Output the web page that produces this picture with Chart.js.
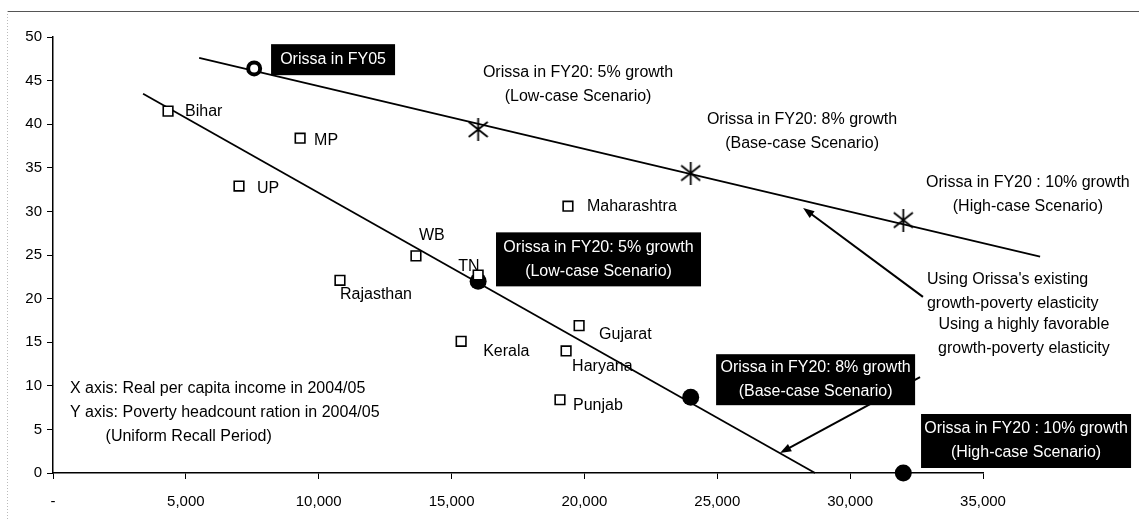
<!DOCTYPE html>
<html lang="en">
  <head>
    <meta charset="UTF-8" />
    <title>Orissa growth-poverty</title>
    <script src="https://cdn.jsdelivr.net/npm/chart.js@4"></script>
    <style>
      html, body { margin: 0; padding: 0; background: #fff; }
      .chart-box { width: 1139px; height: 521px; position: relative; }
    </style>
  </head>
  <body>
    <div class="chart-box">
      <canvas id="myChart"></canvas>
    </div>
    <script>
      // states: per capita income (x) vs poverty headcount (y)
      const stateNames = ["Bihar", "MP", "UP", "Maharashtra", "WB", "Rajasthan", "TN", "Kerala", "Gujarat", "Haryana", "Punjab"];
      const stateIncome = [4330, 9300, 7000, 19380, 13660, 10800, 16000, 15360, 19800, 19310, 19080];
      const statePoverty = [41.5, 38.4, 32.9, 30.6, 24.9, 22.1, 22.7, 15.1, 16.9, 14.0, 8.4];

      const orissaFY05 = { x: 7570, y: 46.4 };

      // FY20 projections at 5%, 8%, 10% growth
      const fy20Income = [16000, 24000, 32000];
      const fy20PovertyExisting = [39.4, 34.4, 29.0];
      const fy20PovertyFavorable = [22.0, 8.7, 0];

      // elasticity lines (end points)
      const lineExisting = [{ x: 5500, y: 47.6 }, { x: 37150, y: 24.8 }];
      const lineFavorable = [{ x: 3390, y: 43.5 }, { x: 28680, y: 0 }];

      const xTicks = [0, 5000, 10000, 15000, 20000, 25000, 30000, 35000];
      const yTicks = [0, 5, 10, 15, 20, 25, 30, 35, 40, 45, 50];

      const FONT = '"Liberation Sans", Arial, sans-serif';

      // label offsets for state names (px from the square)
      const stateLabelOffsets = {
        Bihar: [17, 0, "left"], MP: [14, 2, "left"], UP: [18, 2, "left"],
        Maharashtra: [19, 0, "left"], WB: [3, -20, "left"], Rajasthan: [0, 14, "left"],
        TN: [-20, -8, "left"], Kerala: [22, 10, "left"], Gujarat: [20, 9, "left"],
        Haryana: [6, 16, "left"], Punjab: [13, 6, "left"]
      };

      // six-armed asterisk marker
      const star = document.createElement("canvas");
      star.width = 21; star.height = 23;
      (function () {
        const c = star.getContext("2d");
        c.strokeStyle = "#000"; c.lineWidth = 1.8;
        c.beginPath();
        c.moveTo(10.5, 0); c.lineTo(10.5, 23);
        c.moveTo(1, 4); c.lineTo(20, 19);
        c.moveTo(20, 4); c.lineTo(1, 19);
        c.stroke();
      })();

      const annotations = [
        { box: true, x: 10540, y: 47.4, lines: ["Orissa in FY05"], w: 124, h: 31 },
        { box: true, x: 20530, y: 24.5, lines: ["Orissa in FY20: 5% growth", "(Low-case Scenario)"], w: 205, h: 54 },
        { box: true, x: 28700, y: 10.7, lines: ["Orissa in FY20: 8% growth", "(Base-case Scenario)"], w: 199, h: 51 },
        { box: true, x: 36620, y: 3.67, lines: ["Orissa in FY20 : 10% growth", "(High-case Scenario)"], w: 210, h: 54 },
        { x: 19760, y: 44.55, lines: ["Orissa in FY20: 5% growth", "(Low-case Scenario)"] },
        { x: 28190, y: 39.2, lines: ["Orissa in FY20: 8% growth", "(Base-case Scenario)"] },
        { x: 36690, y: 31.9, lines: ["Orissa in FY20 : 10% growth", "(High-case Scenario)"] },
        { x: 32890, y: 20.8, lines: ["Using Orissa's existing", "growth-poverty elasticity"], align: "left" },
        { x: 36540, y: 15.65, lines: ["Using a highly favorable", "growth-poverty elasticity"] },
        { x: 640, y: 6.9, lines: ["X axis: Real per capita income in 2004/05", "Y axis: Poverty headcount ration in 2004/05", "        (Uniform Recall Period)"], align: "left" }
      ];

      const arrows = [
        { from: { x: 32740, y: 20.2 }, to: { x: 28230, y: 30.4 } },
        { from: { x: 32630, y: 11.0 }, to: { x: 27360, y: 2.3 } }
      ];

      const annotationPlugin = {
        id: "annotationPlugin",
        afterDatasetsDraw(chart) {
          const { ctx, scales } = chart;
          const px = (v) => scales.x.getPixelForValue(v);
          const py = (v) => scales.y.getPixelForValue(v);
          ctx.save();
          // arrows
          ctx.strokeStyle = "#000"; ctx.fillStyle = "#000"; ctx.lineWidth = 2;
          arrows.forEach((a) => {
            const x1 = px(a.from.x), y1 = py(a.from.y), x2 = px(a.to.x), y2 = py(a.to.y);
            const ang = Math.atan2(y2 - y1, x2 - x1);
            ctx.beginPath(); ctx.moveTo(x1, y1);
            ctx.lineTo(x2 - 8 * Math.cos(ang), y2 - 8 * Math.sin(ang)); ctx.stroke();
            ctx.beginPath(); ctx.moveTo(x2, y2);
            ctx.lineTo(x2 - 12 * Math.cos(ang - 0.35), y2 - 12 * Math.sin(ang - 0.35));
            ctx.lineTo(x2 - 12 * Math.cos(ang + 0.35), y2 - 12 * Math.sin(ang + 0.35));
            ctx.closePath(); ctx.fill();
          });
          // state labels
          ctx.font = "16px " + FONT; ctx.textBaseline = "middle"; ctx.fillStyle = "#000";
          stateNames.forEach((n, i) => {
            const o = stateLabelOffsets[n];
            ctx.textAlign = o[2];
            ctx.fillText(n, px(stateIncome[i]) + o[0], py(statePoverty[i]) + o[1]);
          });
          // text annotations
          annotations.forEach((a) => {
            const cx = px(a.x), cy = py(a.y);
            const lh = 24;
            if (a.box) {
              ctx.fillStyle = "#000";
              ctx.fillRect(cx - a.w / 2, cy - a.h / 2, a.w, a.h);
              ctx.fillStyle = "#fff";
            } else {
              ctx.fillStyle = "#000";
            }
            ctx.textAlign = a.align || "center";
            const top = cy - ((a.lines.length - 1) * lh) / 2;
            a.lines.forEach((t, k) => {
              ctx.fillText(t, cx, top + k * lh);
            });
          });
          // frame
          ctx.strokeStyle = "#555"; ctx.lineWidth = 1;
          ctx.beginPath(); ctx.moveTo(7, 11.5); ctx.lineTo(1139, 11.5); ctx.stroke();
          ctx.strokeStyle = "#bbb"; ctx.setLineDash([1, 2]);
          ctx.beginPath(); ctx.moveTo(7.5, 11); ctx.lineTo(7.5, 521); ctx.stroke();
          ctx.restore();
        }
      };

      const ctx = document.getElementById("myChart");
      new Chart(ctx, {
        type: "scatter",
        data: {
          datasets: [
            {
              label: "States",
              data: stateIncome.map((v, i) => ({ x: v, y: statePoverty[i] })),
              pointStyle: "rect",
              pointRadius: 6.8,
              backgroundColor: "#fff",
              borderColor: "#000",
              borderWidth: 1.6,
              order: 1
            },
            {
              label: "Orissa FY05",
              data: [orissaFY05],
              pointStyle: "circle",
              pointRadius: 6,
              backgroundColor: "#fff",
              borderColor: "#000",
              borderWidth: 4,
              order: 0
            },
            {
              label: "FY20 existing elasticity",
              data: fy20Income.map((v, i) => ({ x: v, y: fy20PovertyExisting[i] })),
              pointStyle: star,
              order: 2
            },
            {
              label: "FY20 favorable elasticity",
              data: fy20Income.map((v, i) => ({ x: v, y: fy20PovertyFavorable[i] })),
              pointStyle: "circle",
              pointRadius: 8.5,
              backgroundColor: "#000",
              borderColor: "#000",
              borderWidth: 0,
              clip: false,
              order: 3
            },
            {
              label: "Existing line",
              type: "line",
              data: lineExisting,
              borderColor: "#000",
              borderWidth: 1.8,
              pointRadius: 0,
              clip: false,
              order: 5
            },
            {
              label: "Favorable line",
              type: "line",
              data: lineFavorable,
              borderColor: "#000",
              borderWidth: 1.8,
              pointRadius: 0,
              clip: false,
              order: 5
            }
          ]
        },
        options: {
          responsive: true,
          maintainAspectRatio: false,
          animation: false,
          layout: { padding: { left: 0, right: 156, top: 37, bottom: 0 } },
          plugins: {
            legend: { display: false },
            tooltip: { enabled: false }
          },
          scales: {
            x: {
              type: "linear",
              min: 0,
              max: 35000,
              afterBuildTicks: (s) => { s.ticks = xTicks.map((v) => ({ value: v })); },
              afterFit: (s) => { s.height = 48; },
              grid: { display: true, drawOnChartArea: false, drawTicks: true, tickLength: 6, color: "#000", lineWidth: 1 },
              border: { display: true, color: "#000", width: 1.5 },
              ticks: {
                color: "#000",
                font: { family: FONT, size: 15 },
                padding: 14,
                maxRotation: 0,
                callback: (v) => (v === 0 ? "-" : v.toLocaleString("en-US"))
              }
            },
            y: {
              type: "linear",
              min: 0,
              max: 50,
              afterBuildTicks: (s) => { s.ticks = yTicks.map((v) => ({ value: v })); },
              afterFit: (s) => { s.width = 53; },
              grid: { display: true, drawOnChartArea: false, drawTicks: true, tickLength: 6, color: "#000", lineWidth: 1 },
              border: { display: true, color: "#000", width: 1.5 },
              ticks: {
                color: "#000",
                font: { family: FONT, size: 15 },
                padding: 5
              }
            }
          }
        },
        plugins: [annotationPlugin]
      });
    </script>
  </body>
</html>
